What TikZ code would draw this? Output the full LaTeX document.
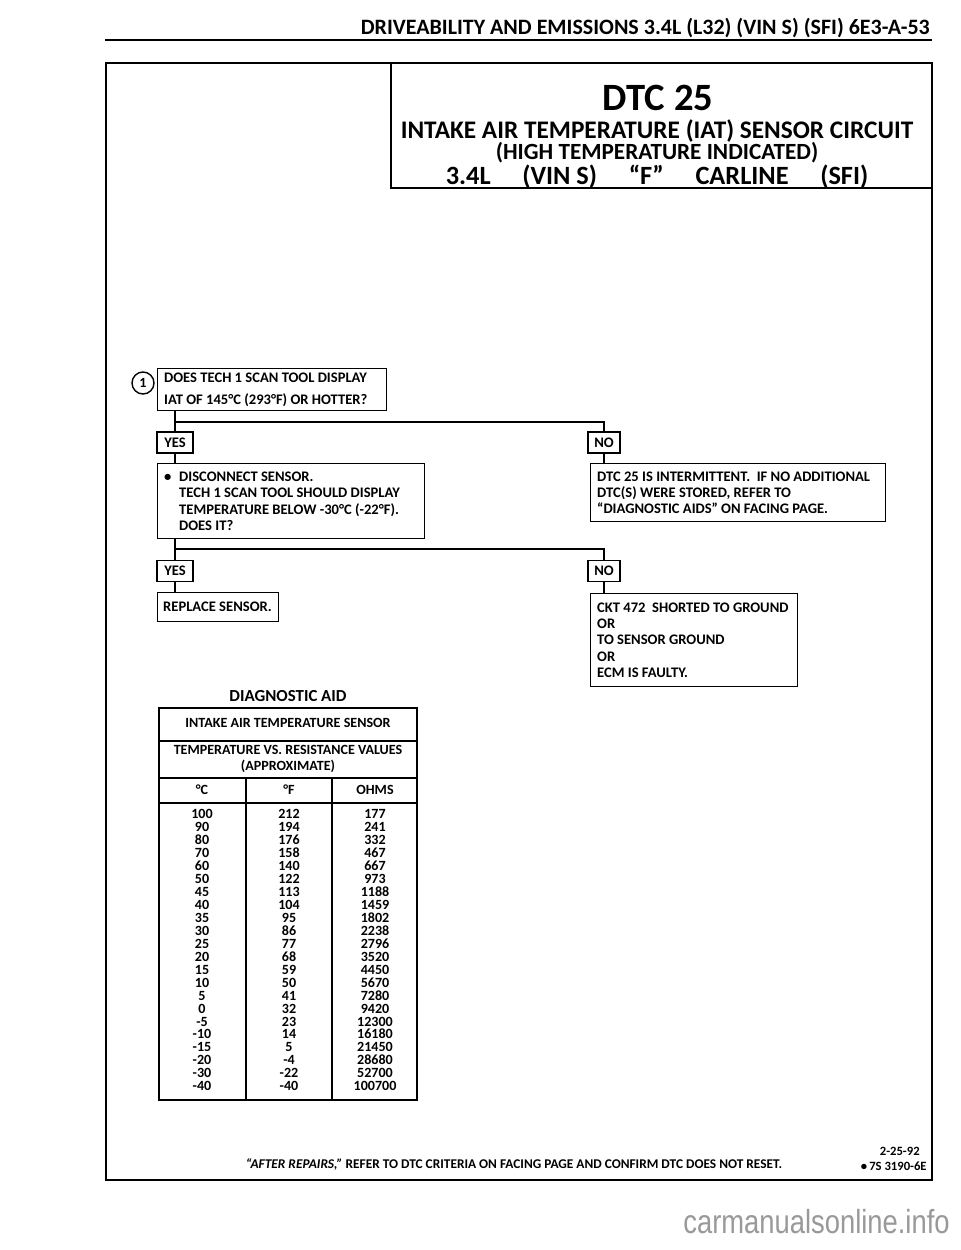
\documentclass[tikz,border=0pt]{standalone}
\usepackage{fontspec}
\setmainfont{Carlito}
\newfontfamily\markfont{Liberation Sans}[FakeStretch=0.82]
\usetikzlibrary{positioning}

\tikzset{
  stepbox/.style={draw, line width=0.8pt, anchor=north west, align=flush left, inner xsep=1.3mm, inner ysep=0pt, font=\fontsize{8.3}{9.3}\selectfont\bfseries},
  answer/.style={draw, line width=0.8pt, minimum width=0.72cm, minimum height=0.42cm, inner sep=0pt, font=\fontsize{8.3}{9}\selectfont\bfseries},
  flow/.style={line width=1.6pt},
  celltext/.style={inner sep=0pt, font=\fontsize{8}{9}\selectfont\bfseries},
  numcell/.style={celltext, text height=5.5pt, text depth=0pt},
  heading/.style={inner sep=0pt, font=\bfseries}
}

\begin{document}
\begin{tikzpicture}[x=0.02cm, y=-0.02cm]
\fill[white] (0,0) rectangle (960,1250);
\useasboundingbox (0,0) rectangle (960,1250);
% cabecalho da pagina
\node[heading, anchor=east, font=\fontsize{12.5}{14}\selectfont\bfseries] (pagehead) at (930,28) {DRIVEABILITY AND EMISSIONS 3.4L (L32) (VIN S) (SFI) 6E3-A-53};
\draw[line width=1.2pt] (105,40) -- (932,40);
% moldura e titulo
\draw[line width=1.2pt] (106,63) rectangle (932,1180);
\draw[line width=0.9pt] (391,63) |- (932,188);
\node[heading, font=\fontsize{22}{24}\selectfont\bfseries] (dtc) at (658,98) {DTC 25};
\node[heading, text width=12cm, align=flush center, font=\fontsize{14.4}{12.3}\selectfont\bfseries] (title) at (657,154)
  {\lineskiplimit=-20pt\relax
   INTAKE AIR TEMPERATURE (IAT) SENSOR CIRCUIT\\
   {\fontsize{13.2}{12.3}\selectfont (HIGH TEMPERATURE INDICATED)}\\
   {\fontsize{15}{12.3}\selectfont 3.4L\hspace{1.2em}(VIN S)\hspace{1.2em}``F''\hspace{1.2em}CARLINE\hspace{1.2em}(SFI)}};
% passos do diagnostico
\node[circle, draw, line width=0.8pt, minimum size=0.44cm, inner sep=0pt, font=\fontsize{8}{9}\selectfont\bfseries] (step1) at (143,383) {1};
\node[stepbox, text width=4.32cm, minimum height=0.84cm] (q1) at (157,368) {DOES TECH 1 SCAN TOOL DISPLAY\\[3pt]IAT OF 145°C (293°F) OR HOTTER?};
\node[answer] (yes1) at (175,442.5) {YES};
\node[answer, minimum width=0.64cm] (no1) at (604,442.5) {NO};
\node[stepbox, text width=5.08cm, minimum height=1.5cm] (q2) at (157,463) {\makebox[3mm][l]{\textbullet}DISCONNECT SENSOR.\\\hspace*{3mm}TECH 1 SCAN TOOL SHOULD DISPLAY\\\hspace*{3mm}TEMPERATURE BELOW -30°C (-22°F).\\\hspace*{3mm}DOES IT?};
\node[stepbox, text width=5.64cm, minimum height=1.16cm] (intermit) at (590,463) {DTC 25 IS INTERMITTENT.\ \ IF NO ADDITIONAL\\DTC(S) WERE STORED, REFER TO\\``DIAGNOSTIC AIDS'' ON FACING PAGE.};
\node[answer] (yes2) at (175,571) {YES};
\node[answer, minimum width=0.64cm] (no2) at (604,571) {NO};
\node[stepbox, text width=2.2cm, inner xsep=1.1mm, minimum height=0.58cm] (replace) at (157,592) {\mbox{REPLACE SENSOR.}};
\node[stepbox, text width=3.88cm, minimum height=1.86cm] (shorted) at (590,593) {CKT 472\ \ SHORTED TO GROUND\\OR\\TO SENSOR GROUND\\OR\\ECM IS FAULTY.};
% ligacoes
\coordinate (split1) at (0,422);
\coordinate (split2) at (0,549);
\draw[flow] (q1.south -| yes1) -- (yes1.north);
\draw[flow] (split1 -| yes1) -| (no1.north);
\draw[flow] (yes1.south) -- (q2.north -| yes1);
\draw[flow] (no1.south) -- (intermit.north -| no1);
\draw[flow] (q2.south -| yes2) -- (yes2.north);
\draw[flow] (split2 -| yes2) -| (no2.north);
\draw[flow] (yes2.south) -- (replace.north -| yes2);
\draw[flow] (no2.south) -- (shorted.north -| no2);
% tabela de valores
\node[heading, font=\fontsize{9.6}{11}\selectfont\bfseries] (aidtitle) at (288,696) {DIAGNOSTIC AID};
\draw[line width=0.8pt] (159,708) rectangle (417,1100);
\draw[line width=0.8pt] (159,741) -- (417,741) (159,778) -- (417,778) (159,803) -- (417,803)
  (246,778) -- (246,1100) (332,778) -- (332,1100);
\node[celltext] (tsensor) at (288,723) {INTAKE AIR TEMPERATURE SENSOR};
\node[celltext, align=center, font=\fontsize{8}{9.5}\selectfont\bfseries] (tvalues) at (288,759) {TEMPERATURE VS. RESISTANCE VALUES\\(APPROXIMATE)};
\node[numcell] (hc) at (202,790) {°C};
\node[numcell] (hf) at (289,790) {°F};
\node[numcell] (hohm) at (375,790) {OHMS};
\foreach \c/\f/\r [count=\i from 0] in {100/212/177, 90/194/241, 80/176/332, 70/158/467, 60/140/667, 50/122/973, 45/113/1188, 40/104/1459, 35/95/1802, 30/86/2238, 25/77/2796, 20/68/3520, 15/59/4450, 10/50/5670, 5/41/7280, 0/32/9420, -5/23/12300, -10/14/16180, -15/5/21450, -20/-4/28680, -30/-22/52700, -40/-40/100700} {
  \node[numcell] (c\i) at (202,814+12.95*\i) {\c};
  \node[numcell] (f\i) at (289,814+12.95*\i) {\f};
  \node[numcell] (r\i) at (375,814+12.95*\i) {\r};
}
% rodape
\node[celltext, font=\fontsize{7.6}{9}\selectfont\bfseries] (repairs) at (514,1164) {\textit{``AFTER REPAIRS,''} REFER TO DTC CRITERIA ON FACING PAGE AND CONFIRM DTC DOES NOT RESET.};
\node[celltext, anchor=east, font=\fontsize{7.2}{8}\selectfont\bfseries] (date) at (920,1151) {2-25-92};
\node[celltext, anchor=east, font=\fontsize{7.2}{8}\selectfont\bfseries] (code) at (927,1166) {\textbullet\,7S 3190-6E};
\node[anchor=east, inner sep=0pt, text=black!40, font=\markfont\fontsize{19}{21}\selectfont] (mark) at (950,1222) {carmanualsonline.info};
\end{tikzpicture}
\end{document}
